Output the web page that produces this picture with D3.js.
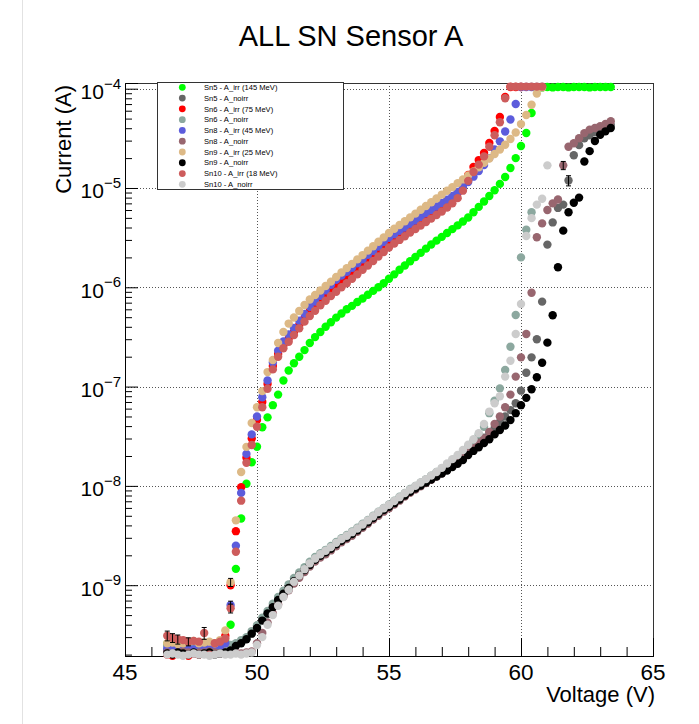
<!DOCTYPE html>
<html lang="en">
<head>
    <meta charset="UTF-8">
    <title>ALL SN Sensor A</title>
    <script src="https://cdn.jsdelivr.net/npm/d3@7/dist/d3.min.js"></script>
    <style>
        body { margin: 0; background: #fff; }
        svg { font-family: "Liberation Sans", Arial, sans-serif; }
    </style>
</head>
<body>
<script>
    // voltage scan, same for every sensor (V)
    const voltages = [46.6, 46.8, 47, 47.2, 47.4, 47.6, 47.8, 48, 48.2, 48.4,
        48.6, 48.8, 49, 49.2, 49.4, 49.6, 49.8, 50, 50.2, 50.4,
        50.6, 50.8, 51, 51.2, 51.4, 51.6, 51.8, 52, 52.2, 52.4,
        52.6, 52.8, 53, 53.2, 53.4, 53.6, 53.8, 54, 54.2, 54.4,
        54.6, 54.8, 55, 55.2, 55.4, 55.6, 55.8, 56, 56.2, 56.4,
        56.6, 56.8, 57, 57.2, 57.4, 57.6, 57.8, 58, 58.2, 58.4,
        58.6, 58.8, 59, 59.2, 59.4, 59.6, 59.8, 60, 60.2, 60.4,
        60.6, 60.8, 61, 61.2, 61.4, 61.6, 61.8, 62, 62.2, 62.4,
        62.6, 62.8, 63, 63.2, 63.4];

    // currents (A), one entry per voltage step
    const sn5Irr = [2.55e-10, 2.5e-10, 2.45e-10, 2.5e-10, 2.45e-10, 2.5e-10, 2.4e-10, 2.5e-10, 2.45e-10, 2.5e-10,
        2.55e-10, 2.7e-10, 4.0e-10, 1.46e-9, 4.7e-9, 1.05e-8, 1.73e-8, 2.48e-8, 3.9e-8, 4.9e-8,
        6.5e-8, 8.3e-8, 1.15e-7, 1.45e-7, 1.72e-7, 2.0e-7, 2.33e-7, 2.75e-7, 3.15e-7, 3.55e-7,
        4.0e-7, 4.45e-7, 4.95e-7, 5.45e-7, 6.0e-7, 6.5e-7, 7.1e-7, 7.7e-7, 8.4e-7, 9.2e-7,
        1.0e-6, 1.1e-6, 1.22e-6, 1.35e-6, 1.5e-6, 1.66e-6, 1.83e-6, 2.02e-6, 2.22e-6, 2.45e-6,
        2.7e-6, 2.95e-6, 3.22e-6, 3.52e-6, 3.85e-6, 4.2e-6, 4.6e-6, 5.05e-6, 5.7e-6, 6.45e-6,
        7.3e-6, 8.3e-6, 9.5e-6, 1.1e-5, 1.29e-5, 1.59e-5, 2.0e-5, 2.65e-5, 3.58e-5, 5.7e-5,
        1.03e-4, 1.03e-4, 1.04e-4, 1.03e-4, 1.04e-4, 1.04e-4, 1.03e-4, 1.04e-4, 1.04e-4, 1.04e-4,
        1.03e-4, 1.04e-4, 1.04e-4, 1.04e-4, 1.04e-4];
    const sn5Noirr = [2.2e-10, 2.15e-10, 2.2e-10, 2.25e-10, 2.2e-10, 2.15e-10, 2.2e-10, 2.2e-10, 2.25e-10, 2.2e-10,
        2.15e-10, 2.2e-10, 2.3e-10, 2.5e-10, 2.7e-10, 2.9e-10, 3.3e-10, 3.8e-10, 4.5e-10, 5.1e-10,
        6.1e-10, 7.0e-10, 8.0e-10, 9.5e-10, 1.08e-9, 1.25e-9, 1.44e-9, 1.63e-9, 1.8e-9, 2.0e-9,
        2.17e-9, 2.37e-9, 2.6e-9, 2.83e-9, 3.07e-9, 3.32e-9, 3.62e-9, 3.97e-9, 4.37e-9, 4.82e-9,
        5.27e-9, 5.75e-9, 6.25e-9, 6.85e-9, 7.45e-9, 8.15e-9, 8.85e-9, 9.55e-9, 1.03e-8, 1.11e-8,
        1.19e-8, 1.28e-8, 1.38e-8, 1.49e-8, 1.62e-8, 1.75e-8, 1.94e-8, 2.2e-8, 2.5e-8, 2.75e-8,
        3.05e-8, 3.4e-8, 3.8e-8, 4.4e-8, 5.0e-8, 5.8e-8, 6.8e-8, 9.1e-8, 1.38e-7, 1.97e-7,
        3.0e-7, 7.17e-7, 2.69e-6, 4.5e-6, 6.3e-6, 6.8e-6, 1.19e-5, 2.14e-5, 2.7e-5, 3.17e-5,
        3.4e-5, 3.65e-5, 3.9e-5, 4.1e-5, 4.3e-5];
    const sn6Irr = [2.0e-10, 1.95e-10, 2.05e-10, 2.0e-10, 1.95e-10, 2.05e-10, 2.0e-10, 2.1e-10, 2.0e-10, 2.05e-10,
        2.15e-10, 3.1e-10, 1.0e-9, 3.5e-9, 9.7e-9, 1.92e-8, 3.0e-8, 4.6e-8, 7.0e-8, 1.06e-7,
        1.61e-7, 2.13e-7, 2.62e-7, 3.05e-7, 3.55e-7, 4.17e-7, 4.91e-7, 5.77e-7, 6.56e-7, 7.45e-7,
        8.47e-7, 9.62e-7, 1.08e-6, 1.19e-6, 1.3e-6, 1.43e-6, 1.58e-6, 1.74e-6, 1.93e-6, 2.11e-6,
        2.34e-6, 2.59e-6, 2.86e-6, 3.1e-6, 3.36e-6, 3.65e-6, 3.95e-6, 4.29e-6, 4.65e-6, 5.05e-6,
        5.47e-6, 5.93e-6, 6.44e-6, 7.06e-6, 7.84e-6, 8.9e-6, 1.07e-5, 1.35e-5, 1.63e-5, 1.91e-5,
        2.25e-5, 2.84e-5, 3.75e-5, 5.19e-5, 8.25e-5, 1.04e-4, 1.04e-4, 1.04e-4];
    const sn6Noirr = [2.45e-10, 2.4e-10, 2.35e-10, 2.4e-10, 2.45e-10, 2.35e-10, 2.4e-10, 2.4e-10, 2.35e-10, 2.45e-10,
        2.4e-10, 2.4e-10, 2.5e-10, 2.6e-10, 2.8e-10, 3.0e-10, 3.45e-10, 3.95e-10, 4.7e-10, 5.5e-10,
        6.5e-10, 7.6e-10, 8.8e-10, 1.02e-9, 1.18e-9, 1.34e-9, 1.52e-9, 1.72e-9, 1.92e-9, 2.1e-9,
        2.27e-9, 2.48e-9, 2.73e-9, 2.98e-9, 3.2e-9, 3.48e-9, 3.8e-9, 4.15e-9, 4.55e-9, 5.0e-9,
        5.5e-9, 6.0e-9, 6.5e-9, 7.1e-9, 7.8e-9, 8.5e-9, 9.3e-9, 1.0e-8, 1.08e-8, 1.17e-8,
        1.27e-8, 1.38e-8, 1.5e-8, 1.64e-8, 1.8e-8, 1.98e-8, 2.2e-8, 2.5e-8, 2.85e-8, 3.3e-8,
        3.94e-8, 5.4e-8, 7.2e-8, 9.6e-8, 1.47e-7, 2.52e-7, 5.26e-7, 2.0e-6, 3.8e-6, 5.7e-6];
    const sn8Irr = [2.3e-10, 2.25e-10, 2.3e-10, 2.35e-10, 2.3e-10, 2.25e-10, 2.3e-10, 2.35e-10, 2.3e-10, 2.3e-10,
        2.35e-10, 2.6e-10, 6.3e-10, 2.5e-9, 8.5e-9, 2.1e-8, 3.3e-8, 5.0e-8, 7.8e-8, 1.15e-7,
        1.75e-7, 2.3e-7, 2.85e-7, 3.35e-7, 3.9e-7, 4.6e-7, 5.4e-7, 6.35e-7, 7.2e-7, 8.2e-7,
        9.3e-7, 1.06e-6, 1.19e-6, 1.31e-6, 1.43e-6, 1.57e-6, 1.74e-6, 1.91e-6, 2.12e-6, 2.32e-6,
        2.57e-6, 2.85e-6, 3.15e-6, 3.41e-6, 3.7e-6, 4.0e-6, 4.35e-6, 4.7e-6, 5.1e-6, 5.55e-6,
        6.0e-6, 6.5e-6, 7.05e-6, 7.6e-6, 8.3e-6, 9.1e-6, 1.02e-5, 1.15e-5, 1.3e-5, 1.48e-5,
        1.7e-5, 2.0e-5, 2.45e-5, 2.95e-5, 3.7e-5, 4.9e-5, 7.0e-5, 1.04e-4, 1.04e-4, 1.04e-4,
        1.04e-4, 1.04e-4];
    const sn8Noirr = [2.1e-10, 2.05e-10, 2.1e-10, 2.15e-10, 2.1e-10, 2.05e-10, 2.1e-10, 2.1e-10, 2.15e-10, 2.1e-10,
        2.05e-10, 2.1e-10, 2.1e-10, 2.1e-10, 2.05e-10, 2.1e-10, 2.15e-10, 2.6e-10, 3.3e-10, 4.2e-10,
        5.2e-10, 6.4e-10, 7.7e-10, 8.9e-10, 1.04e-9, 1.19e-9, 1.36e-9, 1.54e-9, 1.73e-9, 1.9e-9,
        2.05e-9, 2.24e-9, 2.47e-9, 2.7e-9, 2.92e-9, 3.15e-9, 3.45e-9, 3.78e-9, 4.15e-9, 4.58e-9,
        5.0e-9, 5.5e-9, 5.95e-9, 6.5e-9, 7.1e-9, 7.8e-9, 8.5e-9, 9.2e-9, 9.9e-9, 1.07e-8,
        1.15e-8, 1.24e-8, 1.34e-8, 1.45e-8, 1.58e-8, 1.72e-8, 1.9e-8, 2.15e-8, 2.4e-8, 2.7e-8,
        3.0e-8, 3.5e-8, 4.2e-8, 5.0e-8, 6.2e-8, 8.3e-8, 1.26e-7, 1.97e-7, 3.39e-7, 8.8e-7,
        3.19e-6, 4.4e-6, 6.0e-6, 7.0e-6, 7.66e-6, 1.69e-5, 2.6e-5, 2.82e-5, 3.17e-5, 3.57e-5,
        3.87e-5, 4.02e-5, 4.18e-5, 4.41e-5, 4.71e-5];
    const sn9Irr = [2.6e-10, 2.65e-10, 2.55e-10, 2.6e-10, 2.7e-10, 2.75e-10, 2.6e-10, 2.65e-10, 2.7e-10, 2.6e-10,
        2.8e-10, 3.5e-10, 1.07e-9, 4.5e-9, 1.38e-8, 2.47e-8, 4.3e-8, 6.2e-8, 9.0e-8, 1.4e-7,
        1.85e-7, 2.75e-7, 3.55e-7, 4.31e-7, 4.96e-7, 5.77e-7, 6.63e-7, 7.54e-7, 8.36e-7, 9.28e-7,
        1.03e-6, 1.14e-6, 1.27e-6, 1.41e-6, 1.56e-6, 1.72e-6, 1.91e-6, 2.11e-6, 2.34e-6, 2.59e-6,
        2.87e-6, 3.18e-6, 3.52e-6, 3.88e-6, 4.24e-6, 4.63e-6, 5.06e-6, 5.52e-6, 6.03e-6, 6.59e-6,
        7.19e-6, 7.85e-6, 8.58e-6, 9.37e-6, 1.02e-5, 1.12e-5, 1.22e-5, 1.34e-5, 1.47e-5, 1.62e-5,
        1.79e-5, 1.98e-5, 2.2e-5, 2.44e-5, 2.73e-5, 3.11e-5, 3.62e-5, 4.4e-5, 5.43e-5, 6.9e-5,
        8.95e-5, 1.03e-4];
    const sn9Noirr = [2.05e-10, 2.0e-10, 2.1e-10, 2.05e-10, 2.0e-10, 2.1e-10, 2.0e-10, 2.05e-10, 2.1e-10, 2.0e-10,
        2.05e-10, 2.1e-10, 2.2e-10, 2.45e-10, 2.6e-10, 2.85e-10, 3.25e-10, 3.7e-10, 4.4e-10, 5.2e-10,
        6.0e-10, 7.1e-10, 8.2e-10, 9.4e-10, 1.1e-9, 1.26e-9, 1.42e-9, 1.6e-9, 1.8e-9, 1.98e-9,
        2.15e-9, 2.33e-9, 2.58e-9, 2.8e-9, 3.02e-9, 3.28e-9, 3.58e-9, 3.92e-9, 4.3e-9, 4.75e-9,
        5.2e-9, 5.7e-9, 6.15e-9, 6.7e-9, 7.3e-9, 8.0e-9, 8.7e-9, 9.4e-9, 1.01e-8, 1.08e-8,
        1.16e-8, 1.24e-8, 1.33e-8, 1.43e-8, 1.55e-8, 1.67e-8, 1.82e-8, 2.05e-8, 2.25e-8, 2.45e-8,
        2.7e-8, 2.95e-8, 3.3e-8, 3.65e-8, 4.05e-8, 4.6e-8, 5.4e-8, 6.5e-8, 7.7e-8, 9.4e-8,
        1.24e-7, 1.74e-7, 2.77e-7, 5.23e-7, 1.59e-6, 3.72e-6, 5.7e-6, 7.1e-6, 8.0e-6, 1.85e-5,
        2.35e-5, 2.97e-5, 3.44e-5, 3.72e-5, 4.02e-5];
    const sn10Irr = [3.1e-10, 2.95e-10, 2.85e-10, 2.8e-10, 2.7e-10, 2.75e-10, 2.7e-10, 3.3e-10, 2.0e-10, 2.6e-10,
        2.7e-10, 2.9e-10, 5.85e-10, 2.17e-9, 7.1e-9, 1.71e-8, 2.58e-8, 3.94e-8, 6.2e-8, 9.5e-8,
        1.49e-7, 2.0e-7, 2.43e-7, 2.83e-7, 3.31e-7, 3.86e-7, 4.51e-7, 5.14e-7, 5.81e-7, 6.59e-7,
        7.33e-7, 8.17e-7, 9.03e-7, 1.0e-6, 1.1e-6, 1.22e-6, 1.35e-6, 1.5e-6, 1.66e-6, 1.84e-6,
        2.04e-6, 2.27e-6, 2.52e-6, 2.76e-6, 3.0e-6, 3.27e-6, 3.56e-6, 3.86e-6, 4.19e-6, 4.55e-6,
        4.92e-6, 5.34e-6, 5.8e-6, 6.35e-6, 7.0e-6, 7.9e-6, 9.4e-6, 1.18e-5, 1.45e-5, 1.72e-5,
        2.08e-5, 2.6e-5, 3.4e-5, 4.6e-5, 8.0e-5, 1.05e-4, 1.05e-4, 1.05e-4, 1.05e-4, 1.05e-4,
        1.05e-4, 1.05e-4];
    const sn10Noirr = [2.0e-10, 2.05e-10, 2.0e-10, 1.95e-10, 2.0e-10, 2.05e-10, 2.0e-10, 2.0e-10, 1.95e-10, 2.0e-10,
        2.05e-10, 2.0e-10, 2.0e-10, 2.05e-10, 2.0e-10, 2.05e-10, 2.1e-10, 2.5e-10, 3.0e-10, 4.0e-10,
        5.0e-10, 6.2e-10, 7.6e-10, 9.0e-10, 1.08e-9, 1.25e-9, 1.45e-9, 1.66e-9, 1.86e-9, 2.05e-9,
        2.22e-9, 2.42e-9, 2.67e-9, 2.92e-9, 3.15e-9, 3.42e-9, 3.72e-9, 4.08e-9, 4.5e-9, 4.95e-9,
        5.45e-9, 5.95e-9, 6.45e-9, 7.05e-9, 7.7e-9, 8.45e-9, 9.2e-9, 1.0e-8, 1.08e-8, 1.17e-8,
        1.27e-8, 1.38e-8, 1.52e-8, 1.68e-8, 1.86e-8, 2.05e-8, 2.3e-8, 2.6e-8, 2.95e-8, 3.4e-8,
        4.2e-8, 5.6e-8, 6.8e-8, 8.0e-8, 1.26e-7, 1.82e-7, 3.39e-7, 6.8e-7, 3.29e-6, 4.97e-6,
        6.8e-6, 7.8e-6, 1.69e-5];

    const seriesNames = ["Sn5 - A_irr (145 MeV)", "Sn5 - A_noirr", "Sn6 - A_irr (75 MeV)", "Sn6 - A_noirr",
        "Sn8 - A_irr (45 MeV)", "Sn8 - A_noirr", "Sn9 - A_irr (25 MeV)", "Sn9 - A_noirr",
        "Sn10 - A_irr (18 MeV)", "Sn10 - A_noirr"];
    const seriesColors = ["#00ff00", "#666666", "#ff0000", "#8ca89f", "#5c5cdc",
        "#98666f", "#ddb986", "#000000", "#cd5c5c", "#cccccc"];
    const seriesValues = [sn5Irr, sn5Noirr, sn6Irr, sn6Noirr, sn8Irr, sn8Noirr, sn9Irr, sn9Noirr, sn10Irr, sn10Noirr];

    // visible error bars: [series index, voltage, error (A)]
    const errorBars = [[8, 46.6, 0.35e-10], [8, 46.8, 0.3e-10], [8, 47, 0.3e-10], [8, 47.4, 0.25e-10],
        [8, 48, 0.45e-10], [6, 49, 1.0e-10], [8, 49, 0.6e-10], [4, 49, 0.6e-10],
        [5, 61.6, 1.6e-6], [1, 61.8, 1.4e-6]];

    const xMajor = [45, 50, 55, 60, 65];
    const yDecades = [-4, -5, -6, -7, -8, -9];

    const W = 699, H = 724;
    const frame = {left: 125, right: 653, top: 83, bottom: 656};

    const x = d3.scaleLinear().domain([45, 65]).range([frame.left, frame.right]);
    const y = d3.scaleLog().domain([1.936e-10, 1.141e-4]).range([frame.bottom, frame.top]);

    const svg = d3.select('body').append('svg')
        .attr('width', W)
        .attr('height', H);

    svg.append('rect').attr('width', W).attr('height', H).attr('fill', '#fff');
    // thin page border on the left
    svg.append('line')
        .attr('x1', 22.5).attr('x2', 22.5).attr('y1', 0).attr('y2', H)
        .attr('stroke', '#e2e2e2');

    // title
    svg.append('text')
        .attr('x', 351).attr('y', 46)
        .attr('text-anchor', 'middle')
        .style('font-size', '29px')
        .text('ALL SN Sensor A');

    // dotted grid
    const grid = svg.append('g')
        .attr('stroke', '#555')
        .attr('stroke-width', 1)
        .attr('stroke-dasharray', '1,2');
    grid.selectAll('.gx')
        .data(xMajor.filter(v => v > 45 && v < 65))
        .enter().append('line')
        .attr('x1', d => x(d) + 0.5).attr('x2', d => x(d) + 0.5)
        .attr('y1', frame.top).attr('y2', frame.bottom);
    grid.selectAll('.gy')
        .data(yDecades)
        .enter().append('line')
        .attr('x1', frame.left).attr('x2', frame.right)
        .attr('y1', d => Math.round(y(Math.pow(10, d))) + 0.5)
        .attr('y2', d => Math.round(y(Math.pow(10, d))) + 0.5);

    // frame
    svg.append('rect')
        .attr('x', frame.left + 0.5).attr('y', frame.top + 0.5)
        .attr('width', frame.right - frame.left).attr('height', frame.bottom - frame.top)
        .attr('fill', 'none').attr('stroke', '#333');

    // x axis ticks (inside the frame)
    const xMinor = d3.range(46, 65).filter(v => v % 5 !== 0);
    svg.append('g')
        .attr('transform', `translate(0,${frame.bottom})`)
        .call(d3.axisBottom(x).tickValues(xMajor).tickSize(-18).tickFormat(''))
        .call(g => g.select('.domain').attr('stroke', '#000'));
    svg.append('g')
        .attr('transform', `translate(0,${frame.bottom})`)
        .call(d3.axisBottom(x).tickValues(xMinor).tickSize(-9).tickFormat(''))
        .call(g => g.select('.domain').remove());

    svg.selectAll('.xlab')
        .data(xMajor)
        .enter().append('text')
        .attr('x', d => x(d))
        .attr('y', 680)
        .attr('text-anchor', 'middle')
        .style('font-size', '22.5px')
        .text(d => d);

    // y axis ticks
    const yMinor = [];
    [-10, -9, -8, -7, -6, -5, -4].forEach(e => {
        [2, 3, 4, 5, 6, 7, 8, 9].forEach(m => {
            const v = m * Math.pow(10, e);
            if (v > y.domain()[0] && v < y.domain()[1]) yMinor.push(v);
        });
    });
    svg.append('g')
        .attr('transform', `translate(${frame.left},0)`)
        .call(d3.axisLeft(y).tickValues(yDecades.map(d => Math.pow(10, d))).tickSize(-13).tickFormat(''))
        .call(g => g.select('.domain').attr('stroke', '#000'));
    svg.append('g')
        .attr('transform', `translate(${frame.left},0)`)
        .call(d3.axisLeft(y).tickValues(yMinor).tickSize(-7).tickFormat(''))
        .call(g => g.select('.domain').remove());

    const ylab = svg.selectAll('.ylab')
        .data(yDecades)
        .enter().append('text')
        .attr('x', 121)
        .attr('y', d => y(Math.pow(10, d)) + 10.5)
        .attr('text-anchor', 'end')
        .style('font-size', '21px');
    ylab.append('tspan').text('10');
    ylab.append('tspan')
        .attr('dy', -10.5)
        .style('font-size', '15px')
        .text(d => '\u2212' + Math.abs(d));

    // axis titles
    svg.append('text')
        .attr('transform', `translate(71,${frame.top + 2}) rotate(-90)`)
        .attr('text-anchor', 'end')
        .style('font-size', '22px')
        .text('Current (A)');
    svg.append('text')
        .attr('x', 655).attr('y', 702)
        .attr('text-anchor', 'end')
        .style('font-size', '22px')
        .text('Voltage (V)');

    // markers, drawn in legend order
    const plot = svg.append('g');
    seriesValues.forEach((vals, s) => {
        plot.append('g')
            .selectAll('circle')
            .data(vals.map((c, i) => ({v: voltages[i], c: c})))
            .enter().append('circle')
            .attr('cx', d => x(d.v))
            .attr('cy', d => y(d.c))
            .attr('r', 4.2)
            .attr('fill', seriesColors[s]);
        // error bars for this series, on top of its markers
        errorBars.filter(e => e[0] === s).forEach(e => {
            const i = voltages.findIndex(v => Math.abs(v - e[1]) < 1e-6);
            const c = vals[i];
            const cx = x(e[1]);
            const g = plot.append('g').attr('stroke', '#000').attr('stroke-width', 1);
            g.append('line').attr('x1', cx).attr('x2', cx).attr('y1', y(c + e[2])).attr('y2', y(c - e[2]));
            g.append('line').attr('x1', cx - 2.5).attr('x2', cx + 2.5).attr('y1', y(c + e[2])).attr('y2', y(c + e[2]));
            g.append('line').attr('x1', cx - 2.5).attr('x2', cx + 2.5).attr('y1', y(c - e[2])).attr('y2', y(c - e[2]));
        });
    });

    // legend
    const legend = svg.append('g');
    legend.append('rect')
        .attr('x', 157.5).attr('y', 82.5)
        .attr('width', 186).attr('height', 107)
        .attr('fill', '#fff')
        .attr('stroke', '#333');
    const row = legend.selectAll('.row')
        .data(seriesNames)
        .enter().append('g')
        .attr('transform', (d, i) => `translate(0,${87.3 + i * 10.78})`);
    row.append('circle')
        .attr('cx', 182.3).attr('cy', 0).attr('r', 3.4)
        .attr('fill', (d, i) => seriesColors[i]);
    row.append('text')
        .attr('x', 204).attr('y', 2.7)
        .style('font-size', '7.6px')
        .text(d => d);
</script>
</body>
</html>
